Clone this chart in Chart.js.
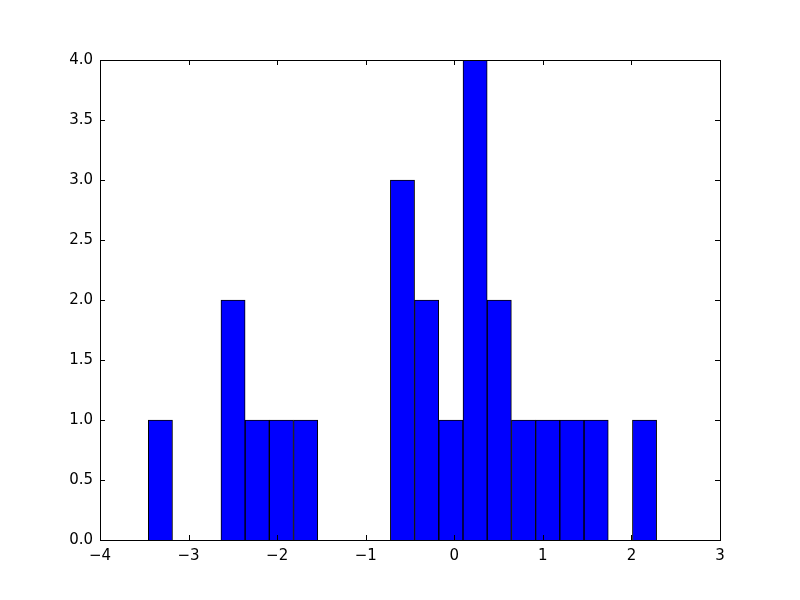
<!DOCTYPE html>
<html>
<head>
<meta charset="utf-8">
<script src="https://cdn.jsdelivr.net/npm/chart.js@4/dist/chart.umd.min.js"></script>
<style>
  html, body { margin: 0; padding: 0; background: #fff; }
  #wrap { width: 800px; height: 600px; }
</style>
</head>
<body>
<div id="wrap"><canvas id="hist" width="800" height="600"></canvas></div>
<script>
// histogram bins (centers) and counts
const BIN_CENTERS = [
  -3.318, -3.045, -2.772, -2.498, -2.225, -1.952, -1.678, -1.405, -1.132, -0.858,
  -0.585, -0.312, -0.038, 0.235, 0.508, 0.782, 1.055, 1.328, 1.602, 1.875, 2.148,
];
const COUNTS = [1, 0, 0, 2, 1, 1, 1, 0, 0, 0, 3, 2, 1, 4, 2, 1, 1, 1, 1, 0, 1];
const X_TICKS = [-4, -3, -2, -1, 0, 1, 2, 3];
const Y_TICKS = [0, 0.5, 1, 1.5, 2, 2.5, 3, 3.5, 4];

const FONT = { family: "DejaVu Sans", size: 15 };

function fmtX(v) {
  return v < 0 ? "\u2212" + Math.abs(v) : String(v);
}

// frame box + inward ticks, matplotlib classic style
const framePlugin = {
  id: "frame",
  afterDatasetsDraw(chart) {
    const { ctx, chartArea: a, scales } = chart;
    ctx.save();
    ctx.strokeStyle = "#000";
    ctx.lineWidth = 1;
    ctx.beginPath();
    X_TICKS.forEach((t) => {
      const px = Math.round(scales.x.getPixelForValue(t)) + 0.5;
      ctx.moveTo(px, a.bottom);
      ctx.lineTo(px, a.bottom - 5);
      ctx.moveTo(px, a.top);
      ctx.lineTo(px, a.top + 5);
    });
    Y_TICKS.forEach((t) => {
      const py = Math.round(scales.y.getPixelForValue(t)) + 0.5;
      ctx.moveTo(a.left, py);
      ctx.lineTo(a.left + 5, py);
      ctx.moveTo(a.right, py);
      ctx.lineTo(a.right - 5, py);
    });
    ctx.stroke();
    ctx.strokeRect(Math.round(a.left) + 0.5, Math.round(a.top) + 0.5,
      Math.round(a.right - a.left), Math.round(a.bottom - a.top));
    ctx.restore();
  },
};

const points = BIN_CENTERS.map((c, i) => ({ x: c, y: COUNTS[i] }));

new Chart(document.getElementById("hist").getContext("2d"), {
  type: "bar",
  data: {
    datasets: [
      {
        data: points,
        backgroundColor: "#0000ff",
        borderColor: "#000000",
        borderWidth: 1,
        barPercentage: 1,
        categoryPercentage: 1,
      },
    ],
  },
  options: {
    responsive: false,
    animation: false,
    events: [],
    layout: { padding: { left: 0, top: 60, right: 80, bottom: 0 } },
    plugins: { legend: { display: false }, tooltip: { enabled: false } },
    scales: {
      x: {
        type: "linear",
        offset: false,
        min: -4,
        max: 3,
        grid: { display: false, drawTicks: false },
        border: { display: false },
        afterBuildTicks: (s) => { s.ticks = X_TICKS.map((v) => ({ value: v })); },
        afterFit: (s) => { s.height = 60; },
        ticks: {
          color: "#000",
          font: FONT,
          padding: 7,
          maxRotation: 0,
          callback: (v) => fmtX(v),
        },
      },
      y: {
        min: 0,
        max: 4,
        grid: { display: false, drawTicks: false },
        border: { display: false },
        afterBuildTicks: (s) => { s.ticks = Y_TICKS.map((v) => ({ value: v })); },
        afterFit: (s) => { s.width = 100; },
        ticks: {
          color: "#000",
          font: FONT,
          padding: 7,
          callback: (v) => v.toFixed(1),
        },
      },
    },
  },
  plugins: [framePlugin],
});
</script>
</body>
</html>
